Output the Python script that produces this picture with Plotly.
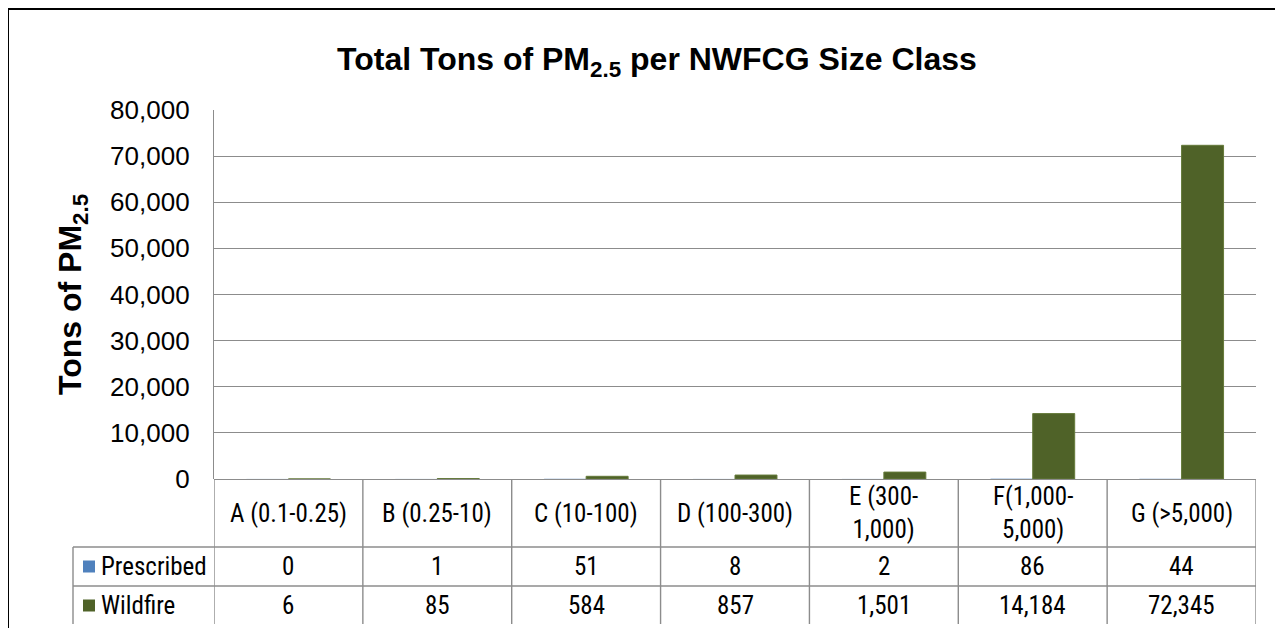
import plotly.graph_objects as go

categories = ["A (0.1-0.25)", "B (0.25-10)", "C (10-100)", "D (100-300)",
              "E (300-<br>1,000)", "F(1,000-<br>5,000)", "G (>5,000)"]
prescribed = [0, 1, 51, 8, 2, 86, 44]
wildfire = [6, 85, 584, 857, 1501, 14184, 72345]
series_names = ["Prescribed", "Wildfire"]
y_ticks = [0, 10000, 20000, 30000, 40000, 50000, 60000, 70000, 80000]

C_PRES = "#4F81BD"
C_WILD = "#4F6228"
GRID = "#8C8C8C"
FONT = "Liberation Sans, Arial, sans-serif"
NARROW = "Liberation Sans Narrow, Arial Narrow, Roboto Condensed, Roboto, sans-serif"

OFF = 8  # page body margin
W, H = 1283 - OFF, 628 - OFF
L, T = 214 - OFF, 110 - OFF
R = W - (1256 - OFF)
B = H - (479 - OFF)
PW, PH = W - L - R, H - T - B


def py(px):
    """screen y pixel -> paper coordinate"""
    return ((479 - OFF) - (px - OFF)) / PH


def pxx(px):
    """screen x pixel -> paper coordinate"""
    return ((px - OFF) - L) / PW


xi = list(range(len(categories)))

fig = go.Figure()
fig.add_trace(go.Bar(x=xi, y=prescribed, name=series_names[0], marker_color=C_PRES))
fig.add_trace(go.Bar(x=xi, y=wildfire, name=series_names[1], marker_color=C_WILD,
                     marker_line_color="#657a3a", marker_line_width=1))

fig.update_layout(
    width=W, height=H,
    margin=dict(l=L, r=R, t=T, b=B, pad=0),
    paper_bgcolor="white", plot_bgcolor="white",
    barmode="group", bargap=0.436, bargroupgap=0,
    showlegend=False,
    font=dict(family=FONT, color="black"),
)
fig.update_xaxes(range=[-0.5, len(categories) - 0.5], showticklabels=False,
                 showgrid=False, zeroline=False, showline=False, ticks="")
fig.update_yaxes(range=[0, 80000], tickvals=y_ticks, tickformat=",",
                 tickfont=dict(family=FONT, size=26, color="black"),
                 showgrid=True, gridcolor=GRID, gridwidth=1.4,
                 zeroline=True, zerolinecolor=GRID, zerolinewidth=1.4,
                 showline=True, linecolor=GRID, linewidth=1.4,
                 ticks="outside", ticklen=18, tickcolor="rgba(0,0,0,0)")

shapes = []
# outer border
shapes.append(dict(type="rect", xref="paper", yref="paper",
                   x0=pxx(8), x1=pxx(1281), y0=py(660), y1=py(9),
                   line=dict(color="black", width=2), fillcolor="rgba(0,0,0,0)", layer="below"))
# table lines
y_top, y_hdr, y_pres, y_bot = py(479), py(547), py(586), py(624)
line = dict(color=GRID, width=1.4)
n = len(categories)
for i in range(n + 1):
    shapes.append(dict(type="line", xref="x", yref="paper", x0=i - 0.5, x1=i - 0.5,
                       y0=y_top, y1=y_bot, line=line))
shapes.append(dict(type="line", xref="paper", yref="paper", x0=pxx(73), x1=pxx(73),
                   y0=y_hdr, y1=y_bot, line=line))
for yy in (y_hdr, y_pres):
    shapes.append(dict(type="line", xref="paper", yref="paper", x0=pxx(73), x1=1,
                       y0=yy, y1=yy, line=line))
# legend keys
for yc, col in ((py(566.5), C_PRES), (py(605.5), C_WILD)):
    shapes.append(dict(type="rect", xref="paper", yref="paper",
                       x0=pxx(83), x1=pxx(95), y0=yc - 6 / PH, y1=yc + 6 / PH,
                       fillcolor=col, line=dict(width=0)))

ann = []
ann.append(dict(text="<b>Total Tons of PM<sub>2.5</sub> per NWFCG Size Class</b>",
                xref="paper", yref="paper", x=pxx(657), y=py(61), showarrow=False,
                xanchor="center", yanchor="middle",
                font=dict(family=FONT, size=32, color="black")))
ann.append(dict(text="<b>Tons of PM<sub>2.5</sub></b>", textangle=-90,
                xref="paper", yref="paper", x=pxx(72), y=py(295), showarrow=False,
                xanchor="center", yanchor="middle",
                font=dict(family=FONT, size=32, color="black")))
tf = dict(family=NARROW, size=25, color="black")
for i, c in enumerate(categories):
    ann.append(dict(text=c, xref="x", yref="paper", x=i, y=py(513), showarrow=False,
                    xanchor="center", yanchor="middle", font=tf))
    ann.append(dict(text=f"{prescribed[i]:,}", xref="x", yref="paper", x=i, y=py(566.5),
                    showarrow=False, xanchor="center", yanchor="middle", font=tf))
    ann.append(dict(text=f"{wildfire[i]:,}", xref="x", yref="paper", x=i, y=py(605.5),
                    showarrow=False, xanchor="center", yanchor="middle", font=tf))
for name, yc in zip(series_names, (py(566.5), py(605.5))):
    ann.append(dict(text=name, xref="paper", yref="paper", x=pxx(99), y=yc,
                    showarrow=False, xanchor="left", yanchor="middle", font=tf))

fig.update_layout(shapes=shapes, annotations=ann)
fig.write_html("out.html")
